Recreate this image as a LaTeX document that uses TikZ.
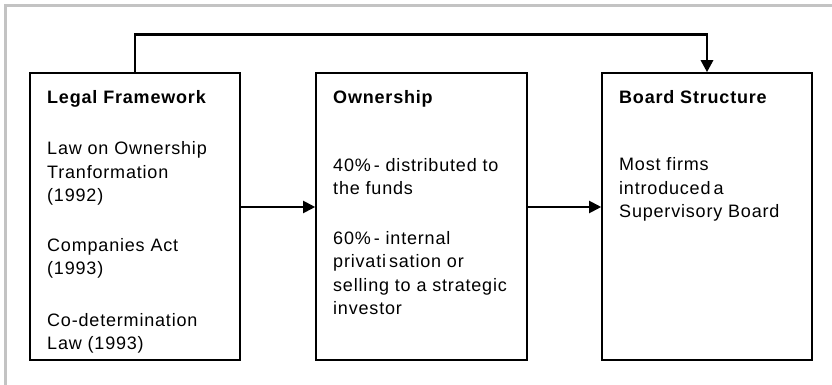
\documentclass[tikz,border=0pt]{standalone}
\usepackage{fontspec}
\setmainfont{Liberation Sans}[LetterSpace=4.5]
\usetikzlibrary{arrows.meta}
\definecolor{framegray}{RGB}{195,195,195}
\begin{document}
\begin{tikzpicture}[x=1pt,y=1pt,
 box/.style={draw, line width=1.6pt, minimum width=210pt, minimum height=287pt, inner sep=0pt},
 head/.style={anchor=base west, inner sep=0pt, font=\fontsize{18}{23.5}\selectfont\bfseries},
 body/.style={anchor=base west, inner sep=0pt, align=left, font=\fontsize{18}{23.5}\selectfont},
 conn/.style={line width=2pt, -{Triangle[length=12pt,width=12pt]}}]
\useasboundingbox (0,0) rectangle (832,385);
\draw[framegray, line width=2.5pt] (5.5,0) -- (5.5,379.5) -- (832,379.5);
\node[box] (lf) at (135,168.5) {};
\node[box, minimum width=211pt] (ow) at (421.5,168.5) {};
\node[box] (bs) at (707,168.5) {};
% texts (anchored at the baseline of their last line)
\node[head] (lfh) at (47,281) {Legal Framework};
\node[body] (lf1) at (47,183) {Law on Ownership\\Tranformation\\(1992)};
\node[body] (lf2) at (47,110) {Companies Act\\(1993)};
\node[body] (lf3) at (47,35) {Co-determination\\Law (1993)};
\node[head] (owh) at (333,281) {Ownership};
\node[body] (ow1) at (333,190) {40\%\,- distributed to\\the funds};
\node[body] (ow2) at (333,70) {60\%\,- internal\\privati\,sation or\\selling to a strategic\\investor};
\node[head] (bsh) at (619,281) {Board Structure};
\node[body] (bs1) at (619,167) {Most firms\\introduced\,a\\Supervisory Board};
% connectors
\draw[conn] ([yshift=9.5pt]lf.east) -- ([yshift=9.5pt]ow.west);
\draw[conn] ([yshift=9.5pt]ow.east) -- ([yshift=9.5pt]bs.west);
\draw[conn, line width=2.8pt] (lf.north) -- ++(0,38) -| (bs.north);
\end{tikzpicture}
\end{document}
